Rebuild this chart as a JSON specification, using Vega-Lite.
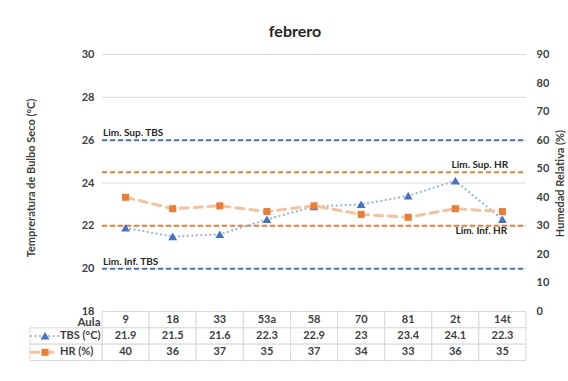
{
  "$schema": "https://vega.github.io/schema/vega-lite/v6.json",
  "background": "white",
  "padding": {"left": 25, "top": 23.5, "right": 5, "bottom": 5},
  "title": {"text": "febrero", "fontSize": 16, "fontWeight": "bold", "font": "Lato", "color": "#262626", "anchor": "middle", "offset": 9},
  "spacing": 0,
  "bounds": "flush",
  "config": {
    "view": {"stroke": null},
    "font": "Lato",
    "axis": {"labelFont": "Lato", "titleFont": "Lato"}
  },
  "datasets": {
    "aulas": [
      {"Aula": "9", "TBS": 21.9, "HR": 40},
      {"Aula": "18", "TBS": 21.5, "HR": 36},
      {"Aula": "33", "TBS": 21.6, "HR": 37},
      {"Aula": "53a", "TBS": 22.3, "HR": 35},
      {"Aula": "58", "TBS": 22.9, "HR": 37},
      {"Aula": "70", "TBS": 23, "HR": 34},
      {"Aula": "81", "TBS": 23.4, "HR": 33},
      {"Aula": "2t", "TBS": 24.1, "HR": 36},
      {"Aula": "14t", "TBS": 22.3, "HR": 35}
    ],
    "limites": [
      {"limite": "Lim. Sup. TBS", "serie": "TBS", "valor": 26},
      {"limite": "Lim. Inf. TBS", "serie": "TBS", "valor": 20},
      {"limite": "Lim. Sup. HR", "serie": "HR", "valor": 48.75},
      {"limite": "Lim. Inf. HR", "serie": "HR", "valor": 30}
    ],
    "cuadricula": [{"t": 18}, {"t": 20}, {"t": 22}, {"t": 24}, {"t": 26}, {"t": 28}, {"t": 30}]
  },
  "vconcat": [
    {
      "width": 496,
      "height": 257,
      "data": {"name": "aulas"},
      "transform": [{"fold": ["TBS", "HR"], "as": ["serie", "valor"]}],
      "layer": [
        {
          "data": {"name": "cuadricula"},
          "mark": {"type": "rule", "stroke": "#d9d9d9", "strokeWidth": 1},
          "encoding": {
            "x": {
              "datum": "9", "type": "nominal", "bandPosition": 0, "axis": null,
              "scale": {"type": "band", "domain": ["9", "18", "33", "53a", "58", "70", "81", "2t", "14t"], "paddingInner": 0, "paddingOuter": 0.7645, "align": 1}
            },
            "x2": {"datum": "14t", "bandPosition": 1},
            "y": {
              "field": "t", "type": "quantitative",
              "scale": {"domain": [18, 30], "nice": false, "zero": false},
              "axis": {
                "orient": "left", "offset": -72, "values": [18, 20, 22, 24, 26, 28, 30],
                "domain": false, "ticks": false, "tickSize": 0, "grid": false,
                "labelPadding": 8, "labelFontSize": 11, "labelFontWeight": "bold", "labelColor": "#404040",
                "title": "Tempreratura de Bulbo Seco (°C)", "titleFontSize": 11, "titleFontWeight": "bold",
                "titleColor": "#404040", "titleX": -66, "titleY": 123, "titleAngle": 270
              }
            }
          }
        },
        {
          "data": {"name": "limites"},
          "transform": [{"filter": "datum.serie == 'TBS'"}],
          "mark": {"type": "rule", "stroke": "#4472c4", "strokeWidth": 2, "strokeDash": [5, 3]},
          "encoding": {
            "x": {"datum": "9", "type": "nominal", "bandPosition": 0},
            "x2": {"datum": "14t", "bandPosition": 1},
            "y": {"field": "valor", "type": "quantitative", "scale": {"domain": [18, 30], "nice": false, "zero": false}, "axis": null}
          }
        },
        {
          "data": {"name": "limites"},
          "transform": [{"filter": "datum.serie == 'HR'"}],
          "mark": {"type": "rule", "stroke": "#ed7d31", "strokeWidth": 2, "strokeDash": [5, 3]},
          "encoding": {
            "x": {"datum": "9", "type": "nominal", "bandPosition": 0},
            "x2": {"datum": "14t", "bandPosition": 1},
            "y": {"field": "valor", "type": "quantitative", "scale": {"domain": [0, 90], "nice": false, "zero": false}, "axis": null}
          }
        },
        {
          "data": {"name": "limites"},
          "transform": [{"filter": "datum.serie == 'TBS'"}],
          "mark": {"type": "text", "align": "left", "baseline": "bottom", "dx": 1, "dy": -2, "fontSize": 10, "fontWeight": "bold", "color": "#262626"},
          "encoding": {
            "x": {"datum": "9", "type": "nominal", "bandPosition": 0},
            "y": {"field": "valor", "type": "quantitative", "scale": {"domain": [18, 30], "nice": false, "zero": false}, "axis": null},
            "text": {"field": "limite"}
          }
        },
        {
          "data": {"name": "limites"},
          "transform": [{"filter": "datum.limite == 'Lim. Sup. HR'"}],
          "mark": {"type": "text", "align": "right", "baseline": "bottom", "dy": -2, "fontSize": 10, "fontWeight": "bold", "color": "#262626"},
          "encoding": {
            "x": {"datum": "14t", "type": "nominal", "bandPosition": 0.62},
            "y": {"field": "valor", "type": "quantitative", "scale": {"domain": [0, 90], "nice": false, "zero": false}, "axis": null},
            "text": {"field": "limite"}
          }
        },
        {
          "data": {"name": "limites"},
          "transform": [{"filter": "datum.limite == 'Lim. Inf. HR'"}],
          "mark": {"type": "text", "align": "right", "baseline": "top", "dy": 0, "fontSize": 10, "fontWeight": "bold", "color": "#262626"},
          "encoding": {
            "x": {"datum": "14t", "type": "nominal", "bandPosition": 0.6},
            "y": {"field": "valor", "type": "quantitative", "scale": {"domain": [0, 90], "nice": false, "zero": false}, "axis": null},
            "text": {"field": "limite"}
          }
        },
        {
          "transform": [{"filter": "datum.serie == 'TBS'"}],
          "mark": {"type": "line", "strokeWidth": 2.25, "strokeCap": "round"},
          "encoding": {
            "x": {"field": "Aula", "type": "nominal", "sort": ["9", "18", "33", "53a", "58", "70", "81", "2t", "14t"]},
            "y": {"field": "valor", "type": "quantitative", "scale": {"domain": [18, 30], "nice": false, "zero": false}, "axis": null},
            "stroke": {
              "field": "serie", "type": "nominal", "legend": null,
              "scale": {"domain": ["TBS", "HR"], "range": ["#9bb7e0", "#f7c19b"]}
            },
            "strokeDash": {
              "field": "serie", "type": "nominal", "legend": null,
              "scale": {"domain": ["TBS", "HR"], "range": [[0.1, 4.4], [8, 6]]}
            }
          }
        },
        {
          "transform": [{"filter": "datum.serie == 'TBS'"}],
          "mark": {"type": "point", "filled": true, "opacity": 1, "size": 256, "strokeWidth": 0},
          "encoding": {
            "x": {"field": "Aula", "type": "nominal"},
            "y": {"field": "valor", "type": "quantitative", "scale": {"domain": [18, 30], "nice": false, "zero": false}, "axis": null},
            "fill": {
              "field": "serie", "type": "nominal", "legend": null,
              "scale": {"domain": ["TBS", "HR"], "range": ["#4472c4", "#ed7d31"]}
            },
            "shape": {
              "field": "serie", "type": "nominal", "legend": null,
              "scale": {"domain": ["TBS", "HR"], "range": ["M-0.55,0.45L0,-0.5L0.55,0.45Z", "M-0.44,-0.44H0.44V0.44H-0.44Z"]}
            }
          }
        },
        {
          "transform": [{"filter": "datum.serie == 'HR'"}],
          "mark": {"type": "line", "strokeWidth": 3, "strokeCap": "round"},
          "encoding": {
            "x": {"field": "Aula", "type": "nominal", "sort": ["9", "18", "33", "53a", "58", "70", "81", "2t", "14t"]},
            "y": {
              "field": "valor", "type": "quantitative",
              "scale": {"domain": [0, 90], "nice": false, "zero": false},
              "axis": {
                "orient": "right", "values": [0, 10, 20, 30, 40, 50, 60, 70, 80, 90],
                "domain": false, "ticks": false, "tickSize": 0, "grid": false,
                "labelPadding": 10, "labelFontSize": 11, "labelFontWeight": "bold", "labelColor": "#404040",
                "title": "Humedad Relativa (%)", "titleFontSize": 11, "titleFontWeight": "bold",
                "titleColor": "#404040", "titleAngle": 270, "titleBaseline": "middle", "titleAlign": "center",
                "titleX": 34, "titleY": 128.5
              }
            },
            "stroke": {"field": "serie", "type": "nominal", "legend": null},
            "strokeDash": {"field": "serie", "type": "nominal", "legend": null}
          }
        },
        {
          "transform": [{"filter": "datum.serie == 'HR'"}],
          "mark": {"type": "point", "filled": true, "opacity": 1, "size": 256, "strokeWidth": 0},
          "encoding": {
            "x": {"field": "Aula", "type": "nominal"},
            "y": {"field": "valor", "type": "quantitative", "scale": {"domain": [0, 90], "nice": false, "zero": false}, "axis": null},
            "fill": {"field": "serie", "type": "nominal", "legend": null},
            "shape": {"field": "serie", "type": "nominal", "legend": null}
          }
        }
      ],
      "resolve": {"scale": {"y": "independent"}, "axis": {"y": "independent"}}
    },
    {
      "width": 496,
      "height": 49,
      "data": {"name": "aulas"},
      "transform": [{"fold": ["Aula", "TBS", "HR"], "as": ["fila", "valor"]}],
      "layer": [
        {
          "mark": {"type": "rect", "fill": "white", "stroke": "#d9d9d9", "strokeWidth": 1},
          "encoding": {
            "x": {
              "field": "Aula", "type": "nominal", "axis": null,
              "scale": {"type": "band", "domain": ["9", "18", "33", "53a", "58", "70", "81", "2t", "14t"], "paddingInner": 0, "paddingOuter": 0.7645, "align": 1}
            },
            "y": {
              "field": "fila", "type": "nominal",
              "scale": {"type": "band", "domain": ["Aula", "TBS", "HR"], "paddingInner": 0, "paddingOuter": 0},
              "axis": {
                "title": null, "orient": "left", "offset": -72, "domain": false, "ticks": false, "tickSize": 0, "grid": false,
                "labelExpr": "datum.value == 'Aula' ? 'Aula' : ''", "labelPadding": 2, "labelOffset": 3,
                "labelFontSize": 11.5, "labelFontWeight": "bold", "labelColor": "#404040"
              }
            }
          }
        },
        {
          "transform": [{"filter": "datum.fila != 'Aula'"}, {"aggregate": [{"op": "count", "as": "n"}], "groupby": ["fila"]}],
          "layer": [
            {
              "mark": {"type": "rect", "fill": "white", "stroke": "#d9d9d9", "strokeWidth": 1},
              "encoding": {
                "x": {"datum": "9", "type": "nominal", "bandPosition": 0},
                "x2": {"value": 0},
                "y": {"field": "fila", "type": "nominal"}
              }
            },
            {
              "mark": {"type": "rule", "strokeCap": "round"},
              "encoding": {
                "x": {"datum": "9", "type": "nominal", "bandPosition": -1.507},
                "x2": {"datum": "9", "bandPosition": -0.913},
                "y": {"field": "fila", "type": "nominal"},
                "stroke": {"field": "fila", "type": "nominal", "legend": null},
                "strokeDash": {"field": "fila", "type": "nominal", "legend": null},
                "strokeWidth": {"condition": {"test": "datum.fila == 'HR'", "value": 3}, "value": 2.25}
              }
            },
            {
              "mark": {"type": "point", "filled": true, "opacity": 1, "size": 256, "strokeWidth": 0},
              "encoding": {
                "x": {"datum": "9", "type": "nominal", "bandPosition": -1.21},
                "y": {"field": "fila", "type": "nominal"},
                "fill": {"field": "fila", "type": "nominal", "legend": null},
                "shape": {"field": "fila", "type": "nominal", "legend": null}
              }
            },
            {
              "mark": {"type": "text", "align": "left", "fontWeight": "bold", "fontSize": 11, "color": "#404040"},
              "encoding": {
                "x": {"datum": "9", "type": "nominal", "bandPosition": -0.892},
                "y": {"field": "fila", "type": "nominal"},
                "text": {"condition": {"test": "datum.fila == 'TBS'", "value": "TBS (°C)"}, "value": "HR (%)"}
              }
            }
          ]
        },
        {
          "mark": {"type": "text", "fontWeight": "bold", "fontSize": 11, "color": "#404040"},
          "encoding": {
            "x": {"field": "Aula", "type": "nominal"},
            "y": {"field": "fila", "type": "nominal"},
            "text": {"field": "valor", "type": "nominal"}
          }
        }
      ]
    }
  ]
}
